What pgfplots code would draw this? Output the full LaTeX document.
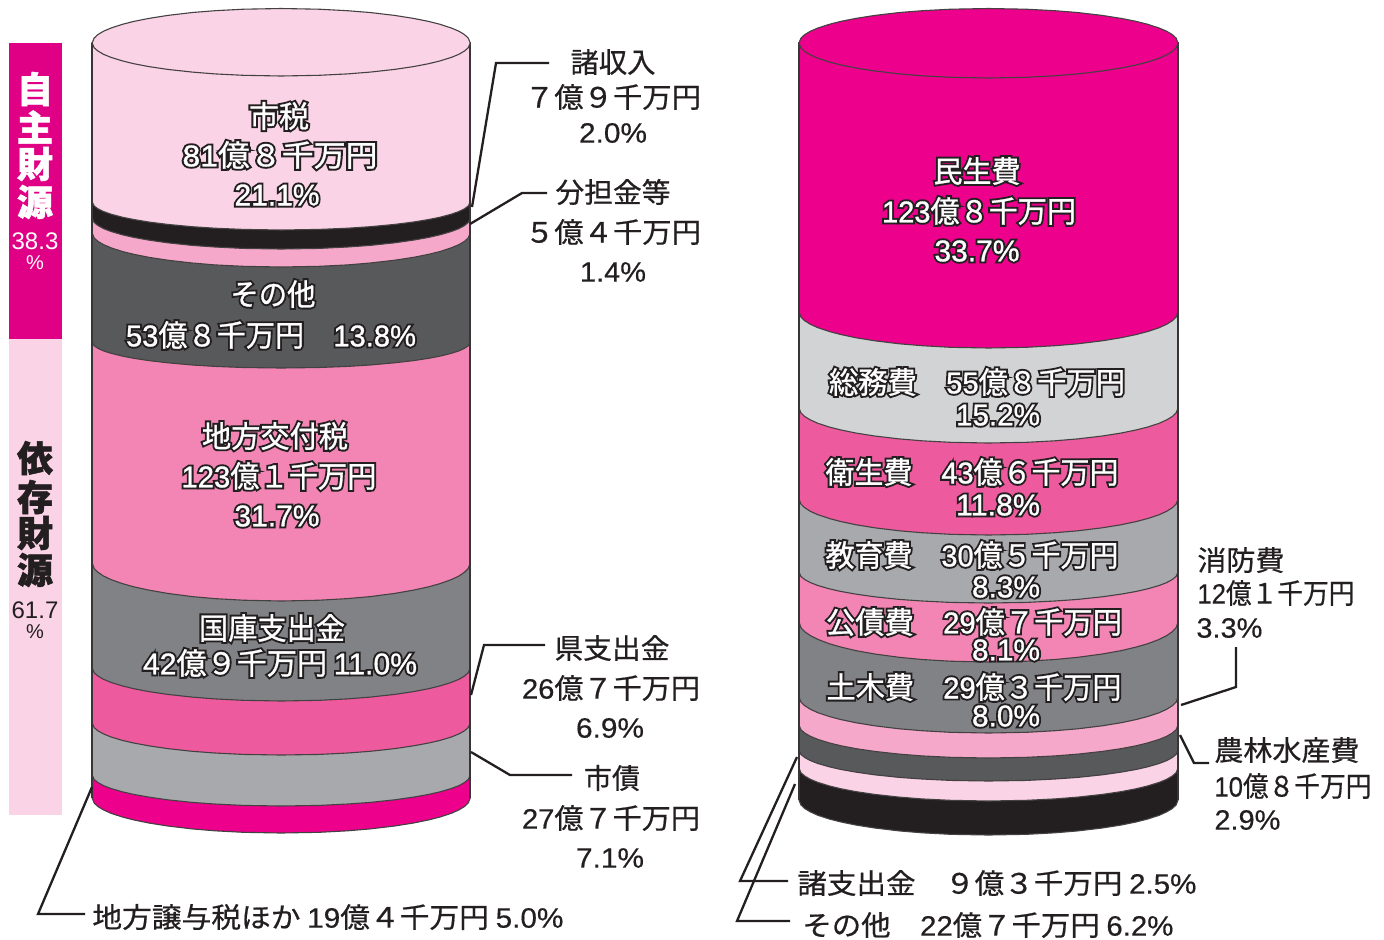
\documentclass[border=0pt]{standalone}
\usepackage{pgfplots}
\usepackage{pgfplotstable}
\usepackage{graphicx}
\usepackage{fontspec}
\pgfplotsset{compat=1.18}
\setmainfont{Noto Sans CJK JP}
\newfontfamily\cjkN[FakeBold=0.6]{Noto Sans CJK JP}
\newfontfamily\cjkH[FakeBold=14]{Noto Sans CJK JP}
\newfontfamily\cjkW[FakeBold=1]{Noto Sans CJK JP}
\newfontfamily\latN[FakeBold=0.4]{Liberation Sans}
\newfontfamily\latH[FakeBold=14]{Liberation Sans}
\newfontfamily\latW[FakeBold=1]{Liberation Sans}
\newfontfamily\latP{Liberation Sans}
\newfontfamily\cjkB[FakeBold=1.5]{Noto Sans CJK JP}
\definecolor{cL}{HTML}{FAD3E6}
\definecolor{cK}{HTML}{231F20}
\definecolor{cP}{HTML}{F6A8CB}
\definecolor{cD}{HTML}{58595B}
\definecolor{cR}{HTML}{F385B5}
\definecolor{cG}{HTML}{808285}
\definecolor{cH}{HTML}{EE5A9E}
\definecolor{cS}{HTML}{A7A9AC}
\definecolor{cM}{HTML}{EC008C}
\definecolor{cW}{HTML}{D1D3D4}
\definecolor{cPanel}{HTML}{E00085}
\pgfplotstableread{
x A B C D E F G H I
92.2 43 43 43 43 43 43 43 43 43
92.2 202 218 233 342 563 668 723 775 798
94.1 205.9 222.4 237.8 345.7 568.4 672.7 727.5 779.4 802.9
97.9 208.8 225.5 241.3 348.3 572.2 676 730.8 782.5 806.5
103.5 211.5 228.6 244.6 350.9 576 679.3 733.9 785.6 809.9
111.1 214.2 231.5 247.8 353.3 579.6 682.4 737 788.5 813.3
122.4 217.2 234.8 251.5 356.1 583.6 685.9 740.4 791.8 817
133.8 219.5 237.4 254.3 358.3 586.8 688.7 743 794.4 819.9
148.9 222 240.1 257.3 360.6 590.1 691.6 745.8 797.1 823
167.8 224.4 242.8 260.2 362.8 593.4 694.4 748.6 799.8 826
192.4 226.7 245.4 263 365 596.6 697.1 751.3 802.4 828.9
215 228.2 247 264.9 366.4 598.6 698.9 753 804 830.8
243.4 229.4 248.4 266.3 367.5 600.2 700.3 754.4 805.4 832.3
281.2 230 249 267 368 601 701 755 806 833
319 229.4 248.4 266.3 367.5 600.2 700.3 754.4 805.4 832.3
347.4 228.2 247 264.9 366.4 598.6 698.9 753 804 830.8
370 226.7 245.4 263 365 596.6 697.1 751.3 802.4 828.9
394.6 224.4 242.8 260.2 362.8 593.4 694.4 748.6 799.8 826
413.5 222 240.1 257.3 360.6 590.1 691.6 745.8 797.1 823
428.6 219.5 237.4 254.3 358.3 586.8 688.7 743 794.4 819.9
440 217.2 234.8 251.5 356.1 583.6 685.9 740.4 791.8 817
451.3 214.2 231.5 247.8 353.3 579.6 682.4 737 788.5 813.3
458.9 211.5 228.6 244.6 350.9 576 679.3 733.9 785.6 809.9
464.5 208.8 225.5 241.3 348.3 572.2 676 730.8 782.5 806.5
468.3 205.9 222.4 237.8 345.7 568.4 672.7 727.5 779.4 802.9
470.2 202 218 233 342 563 668 723 775 798
470.2 43 43 43 43 43 43 43 43 43
}\lefttab
\pgfplotstableread{
x a b c d e f g h i j
799 43 43 43 43 43 43 43 43 43 43
799 312 408 499 572 622 697 725 750 768 800
800.9 317.1 412.9 504.1 576.4 627.6 702.1 729.7 754.4 772.7 804.9
804.7 320.7 416.5 507.7 579.5 631.7 705.7 733 757.5 776 808.5
810.4 324.3 419.9 511.3 582.6 635.6 709.3 736.3 760.6 779.3 811.9
817.9 327.7 423.3 514.7 585.5 639.4 712.7 739.4 763.5 782.4 815.3
829.3 331.5 427 518.5 588.8 643.7 716.5 742.9 766.8 785.9 819
840.7 334.5 429.9 521.5 591.4 647 719.5 745.7 769.4 788.7 821.9
855.8 337.7 433 524.7 594.1 650.6 722.7 748.6 772.1 791.6 825
874.8 340.8 436 527.8 596.8 654 725.8 751.4 774.8 794.4 828
899.4 343.8 438.9 530.8 599.4 657.3 728.8 754.1 777.4 797.1 830.9
922.2 345.7 440.8 532.7 601 659.5 730.7 755.9 779 798.9 832.8
950.6 347.3 442.3 534.3 602.4 661.2 732.3 757.3 780.4 800.3 834.3
988.5 348 443 535 603 662 733 758 781 801 835
1026.4 347.3 442.3 534.3 602.4 661.2 732.3 757.3 780.4 800.3 834.3
1054.8 345.7 440.8 532.7 601 659.5 730.7 755.9 779 798.9 832.8
1077.6 343.8 438.9 530.8 599.4 657.3 728.8 754.1 777.4 797.1 830.9
1102.2 340.8 436 527.8 596.8 654 725.8 751.4 774.8 794.4 828
1121.2 337.7 433 524.7 594.1 650.6 722.7 748.6 772.1 791.6 825
1136.3 334.5 429.9 521.5 591.4 647 719.5 745.7 769.4 788.7 821.9
1147.7 331.5 427 518.5 588.8 643.7 716.5 742.9 766.8 785.9 819
1159.1 327.7 423.3 514.7 585.5 639.4 712.7 739.4 763.5 782.4 815.3
1166.6 324.3 419.9 511.3 582.6 635.6 709.3 736.3 760.6 779.3 811.9
1172.3 320.7 416.5 507.7 579.5 631.7 705.7 733 757.5 776 808.5
1176.1 317.1 412.9 504.1 576.4 627.6 702.1 729.7 754.4 772.7 804.9
1178 312 408 499 572 622 697 725 750 768 800
1178 43 43 43 43 43 43 43 43 43 43
}\righttab
\newsavebox\mybox
\newlength\targetw
\newcommand\Fit[2]{% width(px), content
  \sbox\mybox{#2}\targetw=#1pt \targetw=0.5\targetw
  \pgfmathsetmacro\myscale{\targetw/\wd\mybox}%
  \scalebox{\myscale}[1]{\usebox\mybox}}
\newcommand\La[1]{{\latN #1}}
\newcommand\T[5][14]{% size; cx cy W text
  \node[text=cK,inner sep=0pt,anchor=center] at (axis cs:#2,#3) {\Fit{#4}{\fontsize{#1}{#1}\selectfont\cjkN #5}};}
\newcommand\TL[5][14]{% left-anchored
  \node[text=cK,inner sep=0pt,anchor=west] at (axis cs:#2,#3) {\Fit{#4}{\fontsize{#1}{#1}\selectfont\cjkN #5}};}
\newcommand\Hh[5][15]{% size; cx cy W text: white text with dark outline
  \node[text=cK,inner sep=0pt,anchor=center] at (axis cs:#2,#3) {\let\latN\latH\Fit{#4}{\fontsize{#1}{#1}\selectfont\cjkH #5}};
  \node[text=white,inner sep=0pt,anchor=center] at (axis cs:#2,#3) {\let\latN\latW\Fit{#4}{\fontsize{#1}{#1}\selectfont\cjkW #5}};}
\tikzset{band/.style={draw=cK!85!white,line width=0.55pt,line join=round},
  side/.style={draw=cK!90!white,line width=0.8pt},
  lead/.style={draw=cK,line width=1.15pt,line join=miter}}
\begin{document}
\begin{tikzpicture}
\begin{axis}[scale only axis,width=692pt,height=469.5pt,hide axis,
  xmin=0,xmax=1384,ymin=0,ymax=939,y dir=reverse,clip=false]
\addplot[draw=none,forget plot] coordinates {(0,0) (1384,939)};
% side panels
\addplot[fill=cPanel,draw=none] coordinates {(9,43) (62,43) (62,339) (9,339)} --cycle;
\addplot[fill=cL,draw=none] coordinates {(9,339) (62,339) (62,815) (9,815)} --cycle;
% left cylinder
\addplot[band,fill=cM] table[x=x,y=I] \lefttab --cycle;
\addplot[band,fill=cS] table[x=x,y=H] \lefttab --cycle;
\addplot[band,fill=cH] table[x=x,y=G] \lefttab --cycle;
\addplot[band,fill=cG] table[x=x,y=F] \lefttab --cycle;
\addplot[band,fill=cR] table[x=x,y=E] \lefttab --cycle;
\addplot[band,fill=cD] table[x=x,y=D] \lefttab --cycle;
\addplot[band,fill=cP] table[x=x,y=C] \lefttab --cycle;
\addplot[band,fill=cK] table[x=x,y=B] \lefttab --cycle;
\addplot[band,fill=cL] table[x=x,y=A] \lefttab --cycle;
\addplot[side] coordinates {(92.2,43) (92.2,798)};
\addplot[side] coordinates {(470.2,43) (470.2,798)};
\addplot[band,fill=cL] coordinates {(92.2,43) (94.1,38.1) (97.9,34.6) (103.5,31.2) (111.1,28) (122.4,24.3) (133.8,21.4) (148.9,18.4) (167.8,15.4) (192.4,12.5) (215,10.7) (243.4,9.2) (281.2,8.5) (319,9.2) (347.4,10.7) (370,12.5) (394.6,15.4) (413.5,18.4) (428.6,21.4) (440,24.3) (451.3,28) (458.9,31.2) (464.5,34.6) (468.3,38.1) (470.2,43) (468.3,47.7) (464.5,51) (458.9,54.3) (451.3,57.4) (440,60.9) (428.6,63.7) (413.5,66.6) (394.6,69.4) (370,72.1) (347.4,73.9) (319,75.3) (281.2,76) (243.4,75.3) (215,73.9) (192.4,72.1) (167.8,69.4) (148.9,66.6) (133.8,63.7) (122.4,60.9) (111.1,57.4) (103.5,54.3) (97.9,51) (94.1,47.7)} --cycle;
% right cylinder
\addplot[band,fill=cK] table[x=x,y=j] \righttab --cycle;
\addplot[band,fill=cL] table[x=x,y=i] \righttab --cycle;
\addplot[band,fill=cD] table[x=x,y=h] \righttab --cycle;
\addplot[band,fill=cP] table[x=x,y=g] \righttab --cycle;
\addplot[band,fill=cG] table[x=x,y=f] \righttab --cycle;
\addplot[band,fill=cR] table[x=x,y=e] \righttab --cycle;
\addplot[band,fill=cS] table[x=x,y=d] \righttab --cycle;
\addplot[band,fill=cH] table[x=x,y=c] \righttab --cycle;
\addplot[band,fill=cW] table[x=x,y=b] \righttab --cycle;
\addplot[band,fill=cM] table[x=x,y=a] \righttab --cycle;
\addplot[side] coordinates {(799,43) (799,800)};
\addplot[side] coordinates {(1178,43) (1178,800)};
\addplot[band,fill=cM] coordinates {(799,43) (800.9,38.1) (804.7,34.6) (810.4,31.2) (817.9,28) (829.3,24.3) (840.7,21.4) (855.8,18.4) (874.8,15.4) (899.4,12.5) (922.2,10.7) (950.6,9.2) (988.5,8.5) (1026.4,9.2) (1054.8,10.7) (1077.6,12.5) (1102.2,15.4) (1121.2,18.4) (1136.3,21.4) (1147.7,24.3) (1159.1,28) (1166.6,31.2) (1172.3,34.6) (1176.1,38.1) (1178,43) (1176.1,47.9) (1172.3,51.5) (1166.6,54.9) (1159.1,58.3) (1147.7,62) (1136.3,64.9) (1121.2,68) (1102.2,71) (1077.6,73.9) (1054.8,75.8) (1026.4,77.3) (988.5,78) (950.6,77.3) (922.2,75.8) (899.4,73.9) (874.8,71) (855.8,68) (840.7,64.9) (829.3,62) (817.9,58.3) (810.4,54.9) (804.7,51.5) (800.9,47.9)} --cycle;
% leaders
\addplot[lead] coordinates {(472,207) (496,63) (549,63)};
\addplot[lead] coordinates {(470,224) (522,193) (547,193)};
\addplot[lead] coordinates {(471,695) (484,645) (545,645)};
\addplot[lead] coordinates {(471,752) (510,775) (572,775)};
\addplot[lead] coordinates {(92,787) (38,914) (85,914)};
\addplot[lead] coordinates {(1181,705) (1236,687) (1236,647)};
\addplot[lead] coordinates {(1180,735) (1194,763) (1209,763)};
\addplot[lead] coordinates {(797,757) (740,881) (788,881)};
\addplot[lead] coordinates {(795,784) (737,921) (790,921)};
% panel text
\node[text=white,inner sep=0pt] at (axis cs:35,89) {\fontsize{18}{18}\selectfont\cjkB\bfseries 自};
\node[text=white,inner sep=0pt] at (axis cs:35,127) {\fontsize{18}{18}\selectfont\cjkB\bfseries 主};
\node[text=white,inner sep=0pt] at (axis cs:35,164) {\fontsize{18}{18}\selectfont\cjkB\bfseries 財};
\node[text=white,inner sep=0pt] at (axis cs:35,202) {\fontsize{18}{18}\selectfont\cjkB\bfseries 源};
\node[text=white,inner sep=0pt] at (axis cs:35,241) {\fontsize{12}{12}\selectfont\latP 38.3};
\node[text=white,inner sep=0pt] at (axis cs:35,263) {\fontsize{10}{10}\selectfont\latP \%};
\node[text=cK,inner sep=0pt] at (axis cs:35,458) {\fontsize{18}{18}\selectfont\cjkB\bfseries 依};
\node[text=cK,inner sep=0pt] at (axis cs:35,497) {\fontsize{18}{18}\selectfont\cjkB\bfseries 存};
\node[text=cK,inner sep=0pt] at (axis cs:35,533) {\fontsize{18}{18}\selectfont\cjkB\bfseries 財};
\node[text=cK,inner sep=0pt] at (axis cs:35,570) {\fontsize{18}{18}\selectfont\cjkB\bfseries 源};
\node[text=cK,inner sep=0pt] at (axis cs:35,610) {\fontsize{12}{12}\selectfont\latP 61.7};
\node[text=cK,inner sep=0pt] at (axis cs:35,632) {\fontsize{10}{10}\selectfont\latP \%};
% left inner labels
\Hh{279}{116}{60}{市税}
\Hh{280}{155}{195}{\La{81}億８千万円}
\Hh{277}{195}{85}{\La{21.1\%}}
\Hh{273}{294}{85}{その他}
\Hh{271}{335}{290}{\La{53}億８千万円　\La{13.8\%}}
\Hh{275}{436}{146}{地方交付税}
\Hh{279}{476}{195}{\La{123}億１千万円}
\Hh{277}{516}{85}{\La{31.7\%}}
\Hh{272}{628}{146}{国庫支出金}
\Hh{280}{663}{274}{\La{42}億９千万円 \La{11.0\%}}
% left outer labels
\T{613}{62}{85}{諸収入}
\T{613}{97}{176}{７億９千万円}
\T{613}{133}{68}{\La{2.0\%}}
\T{613}{192}{115}{分担金等}
\T{613}{232}{176}{５億４千万円}
\T{613}{272}{66}{\La{1.4\%}}
\T{612}{648}{115}{県支出金}
\T{611}{688}{178}{\La{26}億７千万円}
\T{610}{728}{68}{\La{6.9\%}}
\T{612}{778}{56}{市債}
\T{611}{818}{178}{\La{27}億７千万円}
\T{610}{858}{68}{\La{7.1\%}}
\TL{92}{917}{471}{地方譲与税ほか \La{19}億４千万円 \La{5.0\%}}
% right inner labels
\Hh{977}{171}{87}{民生費}
\Hh{979}{211}{194}{\La{123}億８千万円}
\Hh{977}{251}{85}{\La{33.7\%}}
\Hh{977}{382}{296}{総務費　\La{55}億８千万円}
\Hh{998}{415}{84}{\La{15.2\%}}
\Hh{972}{472}{293}{衛生費　\La{43}億６千万円}
\Hh{998}{505}{84}{\La{11.8\%}}
\Hh{972}{555}{293}{教育費　\La{30}億５千万円}
\Hh{1006}{587}{68}{\La{8.3\%}}
\Hh{974}{622}{296}{公債費　\La{29}億７千万円}
\Hh{1006}{650}{68}{\La{8.1\%}}
\Hh{974}{687}{295}{土木費　\La{29}億３千万円}
\Hh{1006}{716}{68}{\La{8.0\%}}
% right outer labels
\TL{1197}{560}{87}{消防費}
\TL{1197}{593}{157}{\La{12}億１千万円}
\TL{1196}{628}{66}{\La{3.3\%}}
\TL{1214}{750}{145}{農林水産費}
\TL{1214}{786}{157}{\La{10}億８千万円}
\TL{1214}{820}{66}{\La{2.9\%}}
\TL{797}{883}{399}{諸支出金　９億３千万円 \La{2.5\%}}
\TL{802}{925}{371}{その他　\La{22}億７千万円 \La{6.2\%}}
\end{axis}
\end{tikzpicture}
\end{document}
